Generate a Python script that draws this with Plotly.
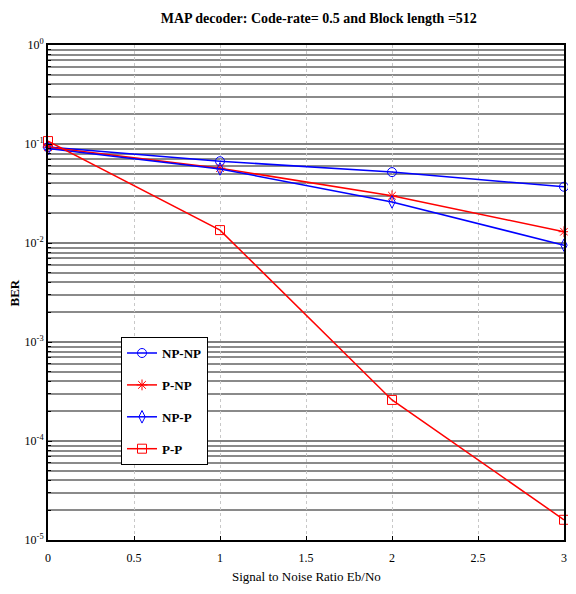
import plotly.graph_objects as go

snr = [0, 1, 2, 3]
np_np = [0.093, 0.067, 0.052, 0.037]
p_np = [0.093, 0.057, 0.030, 0.013]
np_p = [0.090, 0.056, 0.026, 0.0095]
p_p = [0.107, 0.0135, 2.6e-4, 1.6e-5]

x_ticks = [0, 0.5, 1, 1.5, 2, 2.5, 3]
x_labels = ["0", "0.5", "1", "1.5", "2", "2.5", "3"]
y_ticks = [1, 1e-1, 1e-2, 1e-3, 1e-4, 1e-5]
y_labels = ["10<sup>0</sup>", "10<sup>-1</sup>", "10<sup>-2</sup>", "10<sup>-3</sup>", "10<sup>-4</sup>", "10<sup>-5</sup>"]

FONT = "Liberation Serif"

fig = go.Figure()
series = [
    ("NP-NP", np_np, "blue", "circle-open"),
    ("P-NP", p_np, "red", "asterisk-open"),
    ("NP-P", np_p, "blue", "diamond-tall-open"),
    ("P-P", p_p, "red", "square-open"),
]
for name, ys, col, sym in series:
    fig.add_trace(go.Scatter(
        x=snr, y=ys, name="<b>" + name + "</b>", mode="lines+markers",
        legendgroup=name, cliponaxis=False,
        line=dict(color=col, width=1.5),
        marker=dict(symbol=sym, size=9, color=col, line=dict(color=col, width=1)),
    ))

# page body has an 8px margin, so the figure is sized to fit the 576x594 window
fig.update_layout(
    width=560, height=578,
    paper_bgcolor="white", plot_bgcolor="white",
    margin=dict(l=40, r=4, t=37, b=46),
    title=dict(text="<b>MAP decoder: Code-rate= 0.5 and Block length =512</b>",
               x=0.555, xanchor="center", y=0.982, yanchor="middle",
               font=dict(family=FONT, size=14, color="black")),
    font=dict(family=FONT, color="black"),
    legend=dict(x=0.1415, y=0.41, xanchor="left", yanchor="top",
                bordercolor="black", borderwidth=1, bgcolor="white",
                font=dict(family=FONT, size=13, color="black"),
                itemwidth=30, traceorder="grouped", tracegroupgap=12),
    showlegend=True,
)
fig.update_xaxes(
    range=[0, 3], tickvals=x_ticks, ticktext=x_labels, automargin=False,
    showline=True, linecolor="black", linewidth=2, mirror=True,
    ticks="inside", ticklen=4, tickcolor="black", ticklabelstandoff=6,
    showgrid=True, gridcolor="#c8c8c8", griddash="dot", gridwidth=1,
    zeroline=False,
    tickfont=dict(family=FONT, size=12, color="black"),
)
fig.update_yaxes(
    type="log", range=[-5, 0], tickvals=y_ticks, ticktext=y_labels, automargin=False,
    showline=True, linecolor="black", linewidth=2, mirror=True,
    ticks="inside", ticklen=4, tickcolor="black",
    showgrid=True, gridcolor="#808080", gridwidth=1.5,
    minor=dict(dtick="D1", showgrid=True, gridcolor="#8a8a8a", gridwidth=1.5,
               ticks="inside", ticklen=3, tickcolor="black"),
    zeroline=False,
    tickfont=dict(family=FONT, size=12, color="black"),
)
fig.add_annotation(text="<b>BER</b>", xref="paper", yref="paper", x=-0.064, y=0.5,
                   textangle=-90, showarrow=False, xanchor="center", yanchor="middle",
                   font=dict(family=FONT, size=13, color="black"))
fig.add_annotation(text="Signal to Noise Ratio Eb/No", xref="paper", yref="paper",
                   x=0.5, y=0, yshift=-36, showarrow=False, xanchor="center", yanchor="middle",
                   font=dict(family=FONT, size=13, color="black"))

fig.write_html("out.html")
